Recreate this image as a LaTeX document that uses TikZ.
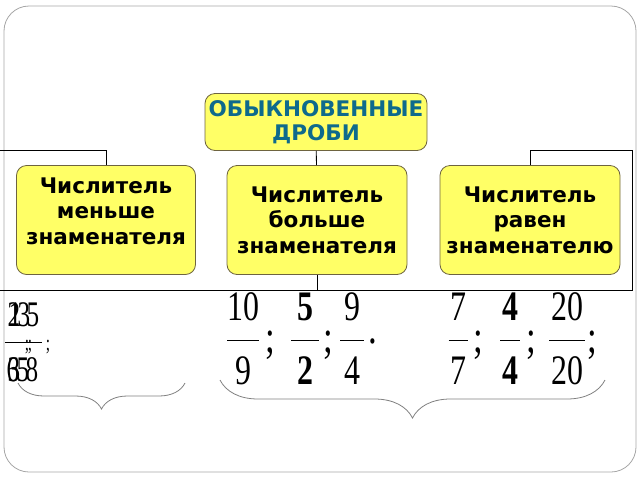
\documentclass[tikz,border=0pt]{standalone}
\usepackage{fontspec}
\newfontfamily\boxfont{DejaVu Sans}
\newfontfamily\numfont{Liberation Serif}
\usetikzlibrary{decorations.pathreplacing}
\definecolor{boxfill}{HTML}{FFFF66}
\definecolor{boxline}{HTML}{6E6440}
\definecolor{titleblue}{HTML}{0E6A8C}
\tikzset{
  box/.style={draw=boxline,fill=boxfill,rounded corners=10pt,line width=0.8pt,align=center,
    font=\boxfont\bfseries\fontsize{21.5}{25.5}\selectfont,inner sep=0pt},
  num/.style={font=\numfont\fontsize{42}{42}\selectfont,inner sep=0pt,xscale=0.76},
  oldnum/.style={font=\numfont\fontsize{36}{36}\selectfont,inner sep=0pt,xscale=0.7},
  brc/.style={draw=gray,line width=0.8pt,decorate}
}
\begin{document}
\begin{tikzpicture}[x=1pt,y=-1pt]
\useasboundingbox (0,0) rectangle (640,480);
\draw[gray!70,line width=0.8pt,rounded corners=25pt] (4,6) rectangle (636,472);

\node[box,text=titleblue,minimum width=222,minimum height=57,font=\boxfont\bfseries\fontsize{21.5}{24}\selectfont] (top) at (316,122) {ОБЫКНОВЕННЫЕ\\ДРОБИ};
\node[box,minimum width=179,minimum height=109] (less) at (106,220) {Числитель\\меньше\\знаменателя\\[-7pt]};
\node[box,minimum width=180,minimum height=109] (more) at (317,220) {Числитель\\больше\\знаменателя};
\node[box,minimum width=180,minimum height=109] (equal) at (530,220) {Числитель\\равен\\знаменателю};

\coordinate (lend) at (0,150);
\coordinate (rtop) at (632,150);
\coordinate (rbot) at (632,290);
\coordinate (lbot) at (0,290);
\draw[line width=0.8pt] (top) -- (more);
\draw[line width=0.8pt] (less.north) |- (lend);
\draw[line width=0.8pt] (equal.north) |- (rtop) -- (rbot) -- (lbot);
\draw[line width=0.8pt] (more.south) -- (more.south |- lbot);

\foreach \x/\n/\d/\w/\f [count=\i] in {243/10/9/32/\mdseries,305/5/2/28/\bfseries,352/9/4/24/\mdseries,
    458/7/7/19/\mdseries,510/4/4/20/\bfseries,567/20/20/36/\mdseries}{
  \node[num] (n\i) at (\x,307) {\f\n};
  \node[num] (d\i) at (\x,371) {\f\d};
  \draw[line width=0.8pt] (\x-\w/2,340) -- (\x+\w/2,340);
}
\foreach \x/\s [count=\i] in {270/;,328/;,478/;,531/;,592/;}
  \node[num,font=\numfont\fontsize{46}{46}\selectfont] (p\i) at (\x,345) {\s};
\node[num,font=\numfont\fontsize{46}{46}\selectfont] (stop) at (373,341) {.};

\foreach \x/\n/\d [count=\i] in {14/2/6,15/1/3,24/3/5,33/5/8}{
  \node[oldnum] (a\i) at (\x,315) {\n};
  \node[oldnum] (b\i) at (\x-1,370) {\d};
}
\draw[line width=0.6pt] (5,342) -- (42,342);
\foreach \x [count=\i] in {27,30,48}
  \node[oldnum,font=\numfont\fontsize{22}{22}\selectfont] (q\i) at (\x,347) {;};

\draw[brc,decoration={brace,mirror,amplitude=26pt}] (18,383) -- (185,383);
\draw[brc,decoration={brace,mirror,amplitude=38pt}] (220,380) -- (605,380);
\end{tikzpicture}
\end{document}
